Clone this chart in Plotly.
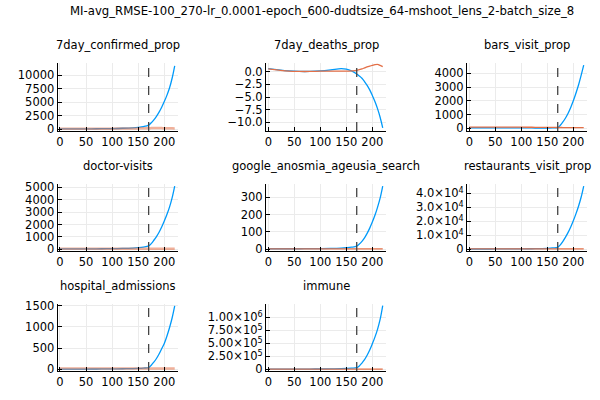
import plotly.graph_objects as go

TITLE = "MI-avg_RMSE-100_270-lr_0.0001-epoch_600-dudtsize_64-mshoot_lens_2-batch_size_8"

PANELS = ["7day_confirmed_prop", "7day_deaths_prop", "bars_visit_prop",
          "doctor-visits", "google_anosmia_ageusia_search", "restaurants_visit_prop",
          "hospital_admissions", "immune"]

DAYS = [0, 20, 40, 60, 80, 100, 120, 140, 150, 160, 170,
        175, 180, 185, 190, 195, 200, 205, 210, 215, 220]
SPLIT_DAY = 170

pred_confirmed = [60, 70, 80, 90, 110, 140, 190, 280, 360, 500, 780,
                  1200, 1750, 2400, 3150, 4050, 5100, 6250, 7600, 9400, 11700]
obs_confirmed = [120, 110, 100, 100, 110, 120, 130, 150, 170, 190, 210,
                 220, 230, 230, 230, 220, 210, 200, 190, 180, 170]

pred_deaths = [0.6, 0.35, 0.15, 0.05, 0.05, 0.15, 0.35, 0.6, 0.5, 0.15, -0.45,
               -0.85, -1.3, -1.95, -2.7, -3.6, -4.7, -5.9, -7.3, -9.0, -11.1]
obs_deaths = [0.55, 0.3, 0.1, 0.05, 0.05, 0.1, 0.1, 0.1, 0.1, 0.15, 0.25,
              0.4, 0.55, 0.75, 0.95, 1.1, 1.25, 1.4, 1.45, 1.25, 1.0]

pred_bars = [40, 40, 40, 35, 35, 30, 25, 20, 20, 25, 50,
             220, 460, 750, 1100, 1520, 2000, 2550, 3150, 3850, 4600]
obs_bars = [80, 80, 80, 80, 80, 80, 75, 70, 70, 65, 60,
            60, 55, 55, 55, 50, 50, 50, 45, 45, 45]

pred_doctor = [30, 30, 35, 40, 45, 55, 70, 100, 130, 180, 270,
               460, 730, 1030, 1380, 1800, 2280, 2800, 3400, 4150, 5100]
obs_doctor = [40, 40, 40, 40, 40, 40, 40, 40, 40, 40, 40,
              40, 40, 40, 40, 40, 40, 40, 40, 40, 40]

pred_google = [3, 3, 3, 3, 4, 4, 5, 7, 9, 12, 18,
               30, 46, 66, 92, 122, 157, 196, 242, 295, 365]
obs_google = [2, 2, 2, 2, 2, 2, 2, 2, 2, 2, 2,
              2, 2, 2, 2, 2, 2, 2, 2, 2, 2]

pred_restaurants = [200, 200, 220, 250, 280, 320, 400, 550, 700, 950, 1400,
                    3200, 5700, 8700, 12100, 16000, 20400, 25300, 30800, 37200, 45200]
obs_restaurants = [300, 300, 300, 300, 300, 300, 300, 300, 300, 300, 300,
                   300, 300, 300, 300, 300, 300, 300, 300, 300, 300]

pred_hospital = [5, 5, 6, 7, 8, 10, 13, 18, 23, 30, 40,
                 95, 170, 255, 360, 485, 610, 780, 980, 1210, 1495]
obs_hospital = [20, 20, 20, 20, 20, 20, 20, 20, 20, 20, 20,
                20, 20, 20, 20, 20, 20, 20, 20, 20, 20]

pred_immune = [3000, 3000, 3500, 4000, 5000, 6000, 8000, 12000, 16000, 21000, 30000,
               65000, 120000, 185000, 270000, 370000, 490000, 620000, 770000, 960000, 1227000]
obs_immune = [5000, 5000, 5000, 5000, 5000, 5000, 5000, 5000, 5000, 5000, 5000,
              5000, 5000, 5000, 5000, 5000, 5000, 5000, 5000, 5000, 5000]

PRED = [pred_confirmed, pred_deaths, pred_bars, pred_doctor,
        pred_google, pred_restaurants, pred_hospital, pred_immune]
OBS = [obs_confirmed, obs_deaths, obs_bars, obs_doctor,
       obs_google, obs_restaurants, obs_hospital, obs_immune]

X_TICKS = [0, 50, 100, 150, 200]
Y_TICKS = [
    ([0, 2500, 5000, 7500, 10000], ["0", "2500", "5000", "7500", "10000"]),
    ([0, -2.5, -5, -7.5, -10], ["0.0", "−2.5", "−5.0", "−7.5", "−10.0"]),
    ([0, 1000, 2000, 3000, 4000], ["0", "1000", "2000", "3000", "4000"]),
    ([0, 1000, 2000, 3000, 4000, 5000], ["0", "1000", "2000", "3000", "4000", "5000"]),
    ([0, 100, 200, 300], ["0", "100", "200", "300"]),
    ([0, 10000, 20000, 30000, 40000],
     ["0", "1.0×10<sup>4</sup>", "2.0×10<sup>4</sup>", "3.0×10<sup>4</sup>", "4.0×10<sup>4</sup>"]),
    ([0, 500, 1000, 1500], ["0", "500", "1000", "1500"]),
    ([0, 250000, 500000, 750000, 1000000],
     ["0", "2.50×10<sup>5</sup>", "5.00×10<sup>5</sup>", "7.50×10<sup>5</sup>", "1.00×10<sup>6</sup>"]),
]

# layout (pixels in a 600x400 canvas)
W, H = 600, 400
COL_PX = [(57.7, 178), (266, 386), (467, 587)]
ROW_PX = [(63.3, 131), (184.3, 251), (304.3, 371)]
Y_RANGES = [(-313, 12155), (-11.72, 1.66), (-196, 4727), (-137, 5242),
            (-10, 375), (-1214, 46430), (-40, 1533), (-33000, 1252000)]
X_RANGE = (-4.4, 226.3)
PALE_OBS = {0, 3, 6}

BLUE = "#009AFA"
ORANGE = "#E36F47"
FONT = "DejaVu Sans"
FS = 11.5

fig = go.Figure()
annotations = []
shapes = []

for i, name in enumerate(PANELS):
    r, c = divmod(i, 3)
    k = "" if i == 0 else str(i + 1)
    x0, x1 = COL_PX[c]
    y0, y1 = ROW_PX[r]
    fig.add_trace(go.Scatter(x=DAYS, y=PRED[i], mode="lines", line=dict(color=BLUE, width=1.3, shape="spline"),
                             xaxis="x" + k, yaxis="y" + k, showlegend=False))
    pale = i in PALE_OBS
    fig.add_trace(go.Scatter(x=DAYS, y=OBS[i], mode="lines",
                             line=dict(color=ORANGE, width=2.5 if pale else 1.3, shape="spline"),
                             opacity=0.55 if pale else 1.0,
                             xaxis="x" + k, yaxis="y" + k, showlegend=False))
    axis_common = dict(showline=True, linecolor="black", linewidth=1, mirror=False,
                       ticks="inside", ticklen=4, tickcolor="black", automargin=False,
                       showgrid=True, gridcolor="#ebebeb", gridwidth=1, zeroline=False,
                       tickfont=dict(family=FONT, size=FS, color="black"))
    fig.update_layout(**{
        "xaxis" + k: dict(domain=[x0 / W, x1 / W], anchor="y" + k, range=list(X_RANGE),
                          tickvals=X_TICKS, ticktext=[str(t) for t in X_TICKS], **axis_common),
        "yaxis" + k: dict(domain=[1 - y1 / H, 1 - y0 / H], anchor="x" + k, range=list(Y_RANGES[i]),
                          tickvals=Y_TICKS[i][0], ticktext=Y_TICKS[i][1], **axis_common),
    })
    shapes.append(dict(type="line", xref="x" + k, yref="y" + k + " domain", x0=SPLIT_DAY, x1=SPLIT_DAY,
                       y0=0, y1=1, line=dict(color="#444444", width=1.3, dash="dash")))
    annotations.append(dict(text=name, x=(x0 + x1) / 2 / W, y=1 - (y0 - 18) / H, xref="paper", yref="paper",
                            xanchor="center", yanchor="middle", showarrow=False,
                            font=dict(family=FONT, size=FS, color="black")))

annotations.append(dict(text=TITLE, x=322 / W, y=1 - 11 / H, xref="paper", yref="paper",
                        xanchor="center", yanchor="middle", showarrow=False,
                        font=dict(family=FONT, size=11.7, color="black")))

fig.update_layout(width=W, height=H, margin=dict(l=0, r=0, t=0, b=0),
                  paper_bgcolor="white", plot_bgcolor="white",
                  annotations=annotations, shapes=shapes, showlegend=False)

# page body has a default 8px margin; drop it so the figure sits at the window corner
fig.write_html("out.html", config={"displayModeBar": False},
               post_script="document.body.style.margin='0';")
